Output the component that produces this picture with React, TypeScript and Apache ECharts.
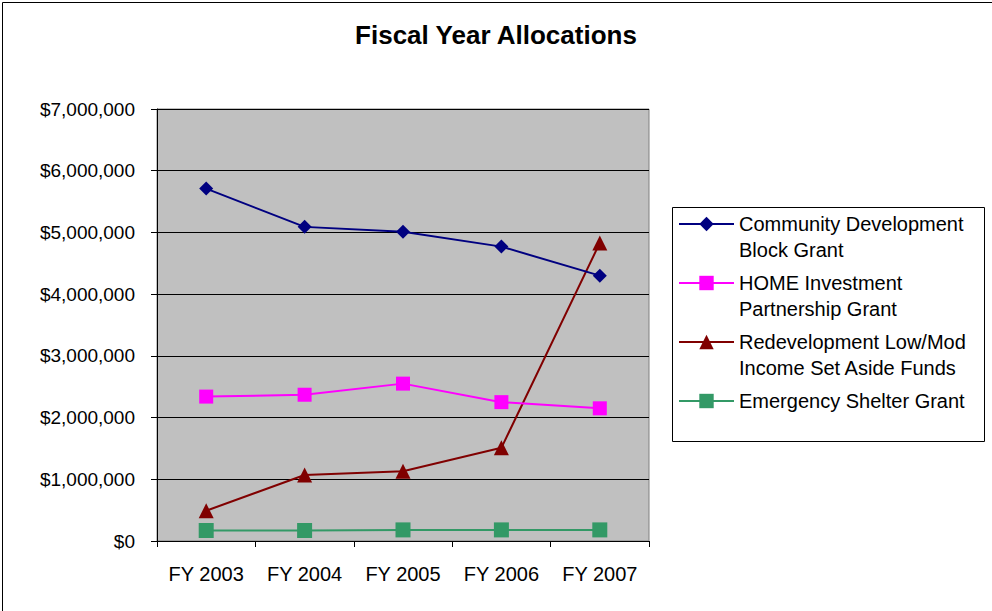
import React, { useEffect, useRef } from "react";
import * as echarts from "echarts";

const categories = ["FY 2003", "FY 2004", "FY 2005", "FY 2006", "FY 2007"];
const seriesNames = [
  "Community Development\nBlock Grant",
  "HOME Investment\nPartnership Grant",
  "Redevelopment Low/Mod\nIncome Set Aside Funds",
  "Emergency Shelter Grant",
];
const cdbg = [5710000, 5090000, 5010000, 4770000, 4300000];
const home = [2340000, 2370000, 2550000, 2250000, 2150000];
const redev = [490000, 1070000, 1130000, 1510000, 4830000];
const esg = [170000, 170000, 180000, 180000, 180000];
const yTicks = { min: 0, max: 7000000, interval: 1000000 };

const colors = ["#000080", "#ff00ff", "#800000", "#339966"];
const symbols = ["diamond", "rect", "triangle", "rect"];
const symbolSizes = [14, 14, 15, 15];

export default function App() {
  const ref = useRef<HTMLDivElement>(null);
  useEffect(() => {
    if (!ref.current) return;
    const chart = echarts.init(ref.current, null, { renderer: "svg" });
    const dataSets = [cdbg, home, redev, esg];
    const font = "'Liberation Sans', Arial, sans-serif";
    chart.setOption({
      animation: false,
      backgroundColor: "#ffffff",
      textStyle: { fontFamily: font },
      title: {
        text: "Fiscal Year Allocations",
        left: "center",
        top: 17,
        textStyle: { fontSize: 26, fontWeight: "bold", color: "#000", fontFamily: font },
      },
      grid: {
        left: 157,
        right: 343,
        top: 109,
        bottom: 70,
        show: true,
        backgroundColor: "#c0c0c0",
        borderColor: "#808080",
        borderWidth: 1,
      },
      legend: {
        orient: "vertical",
        left: 678,
        top: 185,
        padding: 0,
        itemGap: -19,
        itemWidth: 55,
        itemHeight: 18,
        textStyle: { fontSize: 20, color: "#000", lineHeight: 26, fontFamily: font },
        formatter: (name: string) =>
          name.indexOf("\n") >= 0 ? "\n" + name : "\n" + name + "\n",
        data: seriesNames,
      },
      xAxis: {
        type: "category",
        data: categories,
        boundaryGap: true,
        axisLine: { lineStyle: { color: "#000", width: 1 } },
        axisTick: { show: true, length: 6, lineStyle: { color: "#000" } },
        axisLabel: { fontSize: 20, color: "#000", margin: 23, fontFamily: font },
        splitLine: { show: false },
      },
      yAxis: {
        type: "value",
        min: yTicks.min,
        max: yTicks.max,
        interval: yTicks.interval,
        axisLine: { show: true, lineStyle: { color: "#000", width: 1 } },
        axisTick: { show: true, length: 6, lineStyle: { color: "#000" } },
        axisLabel: {
          fontSize: 19,
          color: "#000",
          margin: 22,
          fontFamily: font,
          formatter: (v: number) => "$" + v.toLocaleString("en-US"),
        },
        splitLine: { show: true, lineStyle: { color: "#000", width: 1 } },
      },
      series: dataSets.map((d, i) => ({
        name: seriesNames[i],
        type: "line",
        data: d,
        symbol: symbols[i],
        symbolSize: symbolSizes[i],
        showAllSymbol: true,
        lineStyle: { color: colors[i], width: 2 },
        itemStyle: { color: colors[i], borderWidth: 0 },
        emphasis: { disabled: true },
        z: 10 - i,
      })),
      graphic: [
        {
          type: "rect",
          left: 0,
          top: 0,
          shape: { x: 0.5, y: 0.5, width: 991, height: 610 },
          style: { fill: "none", stroke: "#000", lineWidth: 1 },
          silent: true,
        },
        {
          type: "rect",
          shape: { x: 672.5, y: 207.5, width: 312, height: 234 },
          style: { fill: "none", stroke: "#000", lineWidth: 1 },
          silent: true,
          z: -1,
        },
      ],
    });
    return () => chart.dispose();
  }, []);
  return (
    <div
      ref={ref}
      style={{ position: "fixed", left: 0, top: 0, width: 992, height: 611 }}
    />
  );
}
